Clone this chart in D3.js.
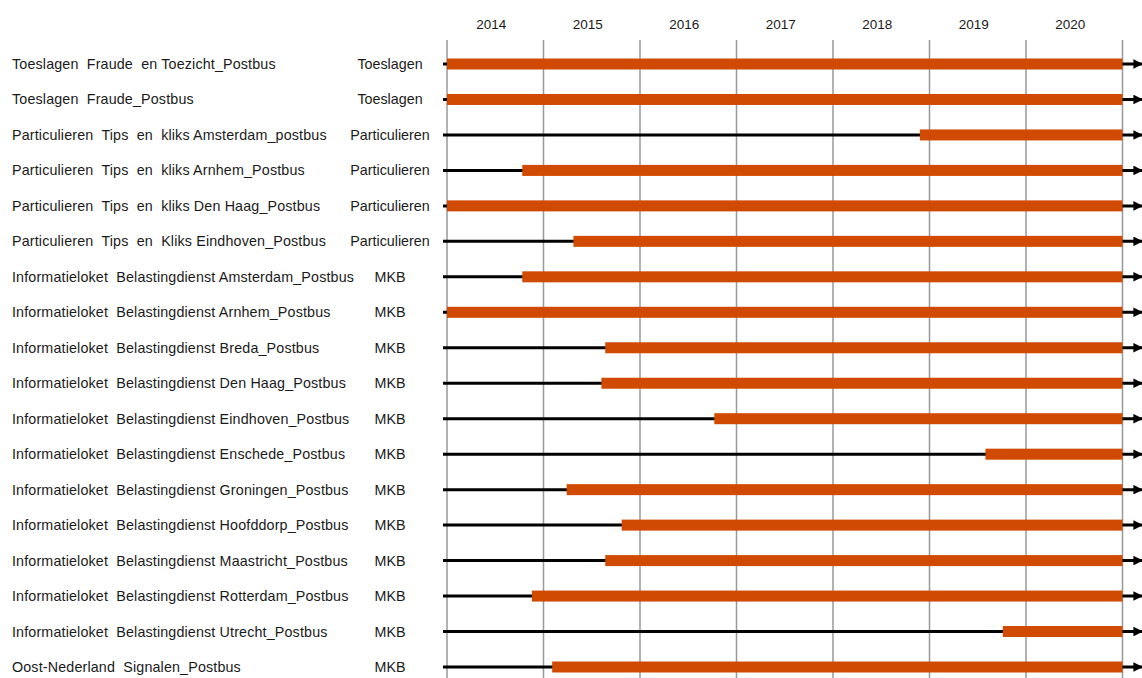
<!DOCTYPE html>
<html>
<head>
<meta charset="utf-8">
<script src="https://cdn.jsdelivr.net/npm/d3@7"></script>
<style>
    body { margin: 0; background: #fff; }
    text { font-family: "Liberation Sans", Arial, sans-serif; fill: #1a1a1a; }
</style>
</head>
<body>
<svg id="chart" width="1142" height="678"></svg>
<script>
// mailboxes, their group and the (decimal) year the orange bar starts
const mailboxes = [
    "Toeslagen  Fraude  en Toezicht_Postbus",
    "Toeslagen  Fraude_Postbus",
    "Particulieren  Tips  en  kliks Amsterdam_postbus",
    "Particulieren  Tips  en  kliks Arnhem_Postbus",
    "Particulieren  Tips  en  kliks Den Haag_Postbus",
    "Particulieren  Tips  en  Kliks Eindhoven_Postbus",
    "Informatieloket  Belastingdienst Amsterdam_Postbus",
    "Informatieloket  Belastingdienst Arnhem_Postbus",
    "Informatieloket  Belastingdienst Breda_Postbus",
    "Informatieloket  Belastingdienst Den Haag_Postbus",
    "Informatieloket  Belastingdienst Eindhoven_Postbus",
    "Informatieloket  Belastingdienst Enschede_Postbus",
    "Informatieloket  Belastingdienst Groningen_Postbus",
    "Informatieloket  Belastingdienst Hoofddorp_Postbus",
    "Informatieloket  Belastingdienst Maastricht_Postbus",
    "Informatieloket  Belastingdienst Rotterdam_Postbus",
    "Informatieloket  Belastingdienst Utrecht_Postbus",
    "Oost-Nederland  Signalen_Postbus"
];
const groups = [
    "Toeslagen", "Toeslagen",
    "Particulieren", "Particulieren", "Particulieren", "Particulieren",
    "MKB", "MKB", "MKB", "MKB", "MKB", "MKB", "MKB", "MKB", "MKB", "MKB", "MKB", "MKB"
];
const startYears = [
    2014.0, 2014.0, 2018.90, 2014.78, 2014.0, 2015.31,
    2014.78, 2014.0, 2015.64, 2015.60, 2016.77, 2019.58,
    2015.24, 2015.81, 2015.64, 2014.88, 2019.76, 2015.09
];
const endYear = 2021;
const years = [2014, 2015, 2016, 2017, 2018, 2019, 2020];

const WIDTH = 1142, HEIGHT = 678;
const MARGIN = {top: 46, left: 447, right: 19.5};

const svg = d3.select('#chart');

const xScale = d3.scaleLinear()
    .domain([2014, endYear])
    .range([MARGIN.left, WIDTH - MARGIN.right]);

const yScale = d3.scalePoint()
    .domain(d3.range(mailboxes.length))
    .range([64, 667]);

// arrow head for the timelines
svg.append('defs').append('marker')
    .attr('id', 'arrow')
    .attr('viewBox', '0 0 10 10')
    .attr('refX', 10).attr('refY', 5)
    .attr('markerWidth', 3.2).attr('markerHeight', 3.2)
    .attr('orient', 'auto')
    .append('path')
    .attr('d', 'M0,0 L10,5 L0,10 z')
    .attr('fill', '#000');

// year gridlines + labels
const gridYears = years.concat([endYear]);
svg.append('g').selectAll('line')
    .data(gridYears)
    .join('line')
    .attr('x1', d => xScale(d)).attr('x2', d => xScale(d))
    .attr('y1', 40).attr('y2', HEIGHT)
    .attr('stroke', '#999')
    .attr('stroke-width', 1.5);

svg.append('g').selectAll('text')
    .data(years)
    .join('text')
    .attr('x', d => xScale(d + 0.5) - 4)
    .attr('y', 29)
    .attr('text-anchor', 'middle')
    .attr('font-size', 13.5)
    .text(d => d);

const rows = mailboxes.map((name, i) => ({name, group: groups[i], start: startYears[i], i}));

// black timeline with arrow
svg.append('g').selectAll('line')
    .data(rows)
    .join('line')
    .attr('x1', xScale(2014) - 4)
    .attr('x2', WIDTH + 1)
    .attr('y1', d => yScale(d.i)).attr('y2', d => yScale(d.i))
    .attr('stroke', '#000')
    .attr('stroke-width', 3)
    .attr('marker-end', 'url(#arrow)');

// orange active period
svg.append('g').selectAll('rect')
    .data(rows)
    .join('rect')
    .attr('x', d => xScale(d.start))
    .attr('width', d => xScale(endYear) - xScale(d.start))
    .attr('y', d => yScale(d.i) - 5.5)
    .attr('height', 11)
    .attr('fill', '#d04a02');

// labels
svg.append('g').selectAll('text')
    .data(rows)
    .join('text')
    .attr('x', 12)
    .attr('y', d => yScale(d.i) + 5)
    .attr('font-size', 14.3)
    .attr('letter-spacing', 0.15)
    .style('white-space', 'pre')
    .text(d => d.name);

svg.append('g').selectAll('text')
    .data(rows)
    .join('text')
    .attr('x', 390)
    .attr('y', d => yScale(d.i) + 5)
    .attr('text-anchor', 'middle')
    .attr('font-size', 14.3)
    .text(d => d.group);
</script>
</body>
</html>
